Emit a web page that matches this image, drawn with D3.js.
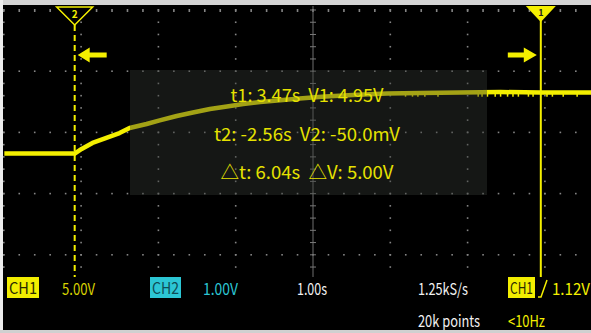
<!DOCTYPE html>
<html>
<head>
<meta charset="utf-8">
<script src="https://cdn.jsdelivr.net/npm/d3@7"></script>
<style>
  body { margin: 0; background: #000; overflow: hidden; }
  svg { display: block; }
  text { font-family: "Noto Sans CJK SC", "Noto Sans", sans-serif; }
</style>
</head>
<body>
<div id="container"></div>
<script>
// CH1 trace (seconds, volts)
var traceT = [-3.47, -2.56, -2.47, -2.33, -2.15, -1.98, -1.85, -1.63, -1.46, -1.24, -1.03, -0.81, -0.59,
              -0.38, -0.16, 0.06, 0.35, 0.68, 1.04, 1.48, 1.91, 2.43, 2.95, 3.47, 4.12];
var traceV = [-0.05, -0.05, 0.33, 0.82, 1.23, 1.63, 2.04, 2.37, 2.66, 3.02, 3.31, 3.59, 3.80,
              4.00, 4.17, 4.29, 4.45, 4.62, 4.74, 4.86, 4.90, 4.94, 4.98, 4.95, 4.95];
// little downward glitches on the top level
var glitchT = [1.72, 1.81, 1.88, 1.97, 2.14, 2.66, 2.71, 2.78, 2.88, 2.95, 3.04, 3.11, 3.18, 3.31, 3.37, 3.55, 3.62, 3.76, 3.94];

// cursors
var cursorNames = ["2", "1"];
var cursorT = [-2.56, 3.47];

// readout box
var readouts = ["t1: 3.47s  V1: 4.95V", "t2: -2.56s  V2: -50.0mV", "\u25B3t: 6.04s  \u25B3V: 5.00V"];

// status bar
var ch1Label = "CH1", ch1Scale = "5.00V";
var ch2Label = "CH2", ch2Scale = "1.00V";
var timebase = "1.00s", sampleRate = "1.25kS/s", recordLen = "20k points";
var trigSource = "CH1", trigLevel = "1.12V", trigFreq = "<10Hz";

var width = 591, height = 333;
var divW = 77.3, divH = 61.2;
var centerX = 313, topY = 10;

var yellow = "#f4ef00", cyan = "#2cc6d4";

var svg = d3.select("#container").append("svg")
    .attr("width", width)
    .attr("height", height)
    .style("background", "#000");

// graticule in divisions
var gx = d3.scaleLinear().domain([-4, 4]).range([centerX - 4 * divW, centerX + 4 * divW]);
var gy = d3.scaleLinear().domain([0, 5]).range([topY, topY + 5 * divH]);

// data scales: 1 s/div, 5 V/div
var x = d3.scaleLinear().domain([0.523 - 4, 0.523 + 4]).range(gx.range());
var y = d3.scaleLinear().domain([(153 - gy(5)) / 12.24, (153 - gy(0)) / 12.24]).range([gy(5), gy(0)]);

var grid = svg.append("g").attr("fill", "#858585");
var cols = d3.range(-4, 4);
var rows = d3.range(0, 5);

// dots along each row
rows.forEach(function (r) {
    var pts = d3.range(-4, 4.01, 0.2).map(function (d) { return gx(d); }).filter(function (v) { return v > 3 && v < width; });
    grid.selectAll(null).data(pts).enter().append("rect")
        .attr("x", function (d) { return d - 0.8; })
        .attr("y", r === 0 ? gy(r) - 1 : gy(r) - 0.8)
        .attr("width", 1.6)
        .attr("height", r === 0 ? 3 : 1.6);
});
// dots down each vertical line
cols.forEach(function (c) {
    if (c === 0) return;
    var pts = d3.range(0, 5.01, 0.2).map(function (d) { return gy(d); }).filter(function (v) { return v < 277; });
    grid.selectAll(null).data(pts).enter().append("rect")
        .attr("x", gx(c) - 0.8)
        .attr("y", function (d) { return d - 0.8; })
        .attr("width", 1.6)
        .attr("height", 1.6);
});
// centre line with ticks
grid.append("line")
    .attr("x1", gx(0)).attr("x2", gx(0))
    .attr("y1", 6).attr("y2", 277)
    .attr("stroke", "#6e6e6e").attr("stroke-width", 1);
grid.selectAll(null).data(d3.range(0, 5.01, 0.2).map(function (d) { return gy(d); }).filter(function (v) { return v < 277; }))
    .enter().append("line")
    .attr("x1", gx(0) - 3).attr("x2", gx(0) + 3)
    .attr("y1", function (d) { return d; }).attr("y2", function (d) { return d; })
    .attr("stroke", "#7a7a7a").attr("stroke-width", 1);

// trace
var pts = traceT.map(function (t, i) { return [t, traceV[i]]; });
var line = d3.line()
    .x(function (d) { return x(d[0]); })
    .y(function (d) { return y(d[1]); })
    .curve(d3.curveLinear);

svg.append("path")
    .datum(pts)
    .attr("d", line)
    .attr("fill", "none")
    .attr("stroke", yellow)
    .attr("stroke-width", 4.5)
    .attr("stroke-linejoin", "round");

svg.append("g").selectAll("line").data(glitchT).enter().append("line")
    .attr("x1", function (d) { return x(d); })
    .attr("x2", function (d) { return x(d); })
    .attr("y1", y(4.95))
    .attr("y2", y(4.6))
    .attr("stroke", yellow)
    .attr("stroke-width", 1.5);

// cursors
var c2 = x(cursorT[0]), c1 = x(cursorT[1]);

svg.append("line")
    .attr("x1", c2).attr("x2", c2)
    .attr("y1", 25).attr("y2", 277)
    .attr("stroke", yellow).attr("stroke-width", 2)
    .attr("stroke-dasharray", "6,4");
svg.append("path")
    .attr("d", "M" + (c2 - 18) + ",7L" + (c2 + 18) + ",7L" + c2 + ",25Z")
    .attr("fill", "#000").attr("stroke", yellow).attr("stroke-width", 1.5);
svg.append("text")
    .attr("x", c2).attr("y", 18)
    .attr("text-anchor", "middle")
    .attr("font-size", 10).attr("font-weight", "bold")
    .attr("fill", yellow)
    .text(cursorNames[0]);

svg.append("line")
    .attr("x1", c1).attr("x2", c1)
    .attr("y1", 20).attr("y2", 277)
    .attr("stroke", yellow).attr("stroke-width", 2);
svg.append("path")
    .attr("d", "M" + (c1 - 15) + ",6L" + (c1 + 15) + ",6L" + c1 + ",22Z")
    .attr("fill", yellow);
svg.append("text")
    .attr("x", c1).attr("y", 16)
    .attr("text-anchor", "middle")
    .attr("font-size", 9).attr("font-weight", "bold")
    .attr("fill", "#222")
    .text(cursorNames[1]);

// arrows next to the cursors
var cy = 55;
svg.append("path")
    .attr("d", "M" + (c2 + 3) + "," + cy + "l12,-7.5v5h17v5h-17v5Z")
    .attr("fill", yellow);
svg.append("path")
    .attr("d", "M" + (c1 - 4) + "," + cy + "l-13,-7.5v5h-16v5h16v5Z")
    .attr("fill", yellow);

// readout box (semi transparent, dims the trace under it)
svg.append("rect")
    .attr("x", 130).attr("y", 70)
    .attr("width", 357).attr("height", 125)
    .attr("fill", "rgb(50,54,50)")
    .attr("fill-opacity", 0.42);

var readWidths = [153, 186, 173];
var readBase = [102, 141, 179];
svg.append("g").selectAll("text").data(readouts).enter().append("text")
    .attr("x", 307)
    .attr("y", function (d, i) { return readBase[i]; })
    .attr("text-anchor", "middle")
    .attr("font-size", 18)
    .attr("fill", "#e6e200")
    .attr("textLength", function (d, i) { return readWidths[i]; })
    .attr("lengthAdjust", "spacingAndGlyphs")
    .style("white-space", "pre")
    .text(function (d) { return d; });

// status bar
svg.append("rect").attr("x", 0).attr("y", 277).attr("width", width).attr("height", 53).attr("fill", "#000");

function label(txt, x0, base, w, color) {
    svg.append("text")
        .attr("x", x0).attr("y", base)
        .attr("font-size", 16)
        .attr("fill", color)
        .attr("textLength", w)
        .attr("lengthAdjust", "spacingAndGlyphs")
        .text(txt);
}
function badge(txt, x0, w, bg, fg) {
    svg.append("rect").attr("x", x0).attr("y", 277).attr("width", w).attr("height", 21).attr("fill", bg);
    label(txt, x0 + 2, 294, w - 4, fg);
}

badge(ch1Label, 7, 32, "#f2ee00", "#2a2a00");
label(ch1Scale, 62, 295, 33, "#d8d200");
badge(ch2Label, 150, 31, cyan, "#0f4c55");
label(ch2Scale, 203, 295, 35, cyan);
label(timebase, 297, 295, 30, "#f2f2f2");
label(sampleRate, 418, 295, 50, "#f2f2f2");
badge(trigSource, 508, 27, "#f2ee00", "#2a2a00");
svg.append("path")
    .attr("d", "M538,297h3l6,-17")
    .attr("fill", "none").attr("stroke", yellow).attr("stroke-width", 1.5);
label(trigLevel, 552, 295, 38, yellow);
label(recordLen, 418, 327, 62, "#f2f2f2");
label(trigFreq, 508, 327, 37, yellow);

// screenshot frame
svg.append("rect").attr("x", 0).attr("y", 0).attr("width", width).attr("height", 5).attr("fill", "#d4d4d4");
svg.append("rect").attr("x", 0).attr("y", 0).attr("width", 3).attr("height", height).attr("fill", "#eeeeee");
svg.append("rect").attr("x", 0).attr("y", 330).attr("width", width).attr("height", 3).attr("fill", "#d0d0d0");
</script>
</body>
</html>
